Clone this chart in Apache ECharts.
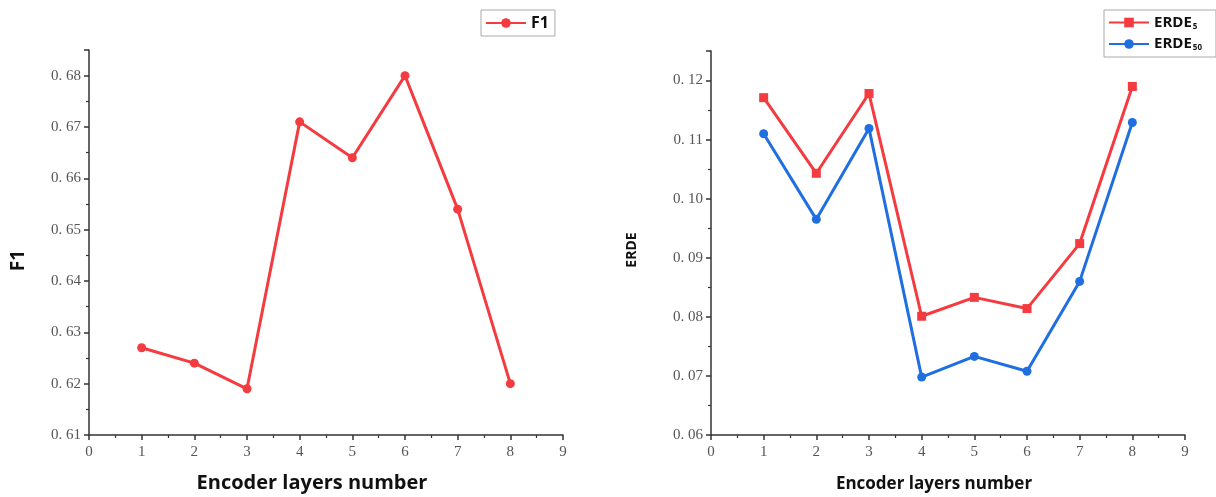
<!DOCTYPE html>
<html lang="en">

<head>
    <meta charset="UTF-8">
    <title>Encoder layers</title>
    <style>
        html, body { margin: 0; padding: 0; background: #fff; }
        #root { width: 1216px; height: 497px; }
    </style>
</head>

<body>
    <div id="root"></div>
    <script src="https://cdn.jsdelivr.net/npm/echarts@6/dist/echarts.min.js"></script>
    <script>
        var layers = [1, 2, 3, 4, 5, 6, 7, 8];
        var f1 = [0.627, 0.624, 0.619, 0.671, 0.664, 0.680, 0.654, 0.620];
        var erde5 = [0.1171, 0.1043, 0.1178, 0.0801, 0.0833, 0.0814, 0.0924, 0.1190];
        var erde50 = [0.1110, 0.0965, 0.1119, 0.0698, 0.0733, 0.0708, 0.0860, 0.1129];

        var red = "#f33b40";
        var blue = "#1f6fe0";
        var serif = "'Liberation Serif', 'DejaVu Serif', serif";
        var sans = "'Open Sans', 'Noto Sans', sans-serif";

        function pairs(ys) {
            return layers.map(function (x, i) { return [x, ys[i]]; });
        }

        function xAxis(idx, nameSize, nameGap) {
            return {
                type: "value",
                gridIndex: idx,
                min: 0,
                max: 9,
                interval: 1,
                name: "Encoder layers number",
                nameLocation: "middle",
                nameGap: nameGap,
                nameTextStyle: {
                    fontFamily: sans, fontWeight: "bold", fontSize: nameSize, color: "#111",
                    padding: [0, 28, 0, 0]
                },
                axisLine: { lineStyle: { color: "#333", width: 1.5 } },
                axisTick: { length: 5, lineStyle: { color: "#333", width: 1.5 } },
                minorTick: { show: true, splitNumber: 2, length: 3, lineStyle: { color: "#333", width: 1.2 } },
                axisLabel: { fontFamily: serif, fontSize: 15, color: "#555", margin: 10 },
                splitLine: { show: false }
            };
        }

        function yAxis(idx, min, max, name, nameSize, nameGap, shift) {
            return {
                type: "value",
                gridIndex: idx,
                min: min,
                max: max,
                interval: 0.01,
                name: name,
                nameLocation: "middle",
                nameGap: nameGap,
                nameTextStyle: {
                    fontFamily: sans, fontWeight: "bold", fontSize: nameSize, color: "#111",
                    padding: [0, shift * 2, 0, 0]
                },
                axisLine: { show: true, lineStyle: { color: "#333", width: 1.5 } },
                axisTick: { show: true, length: 5, lineStyle: { color: "#333", width: 1.5 } },
                minorTick: { show: true, splitNumber: 2, length: 3, lineStyle: { color: "#333", width: 1.2 } },
                axisLabel: {
                    fontFamily: serif, fontSize: 15, color: "#555", margin: 8,
                    showMaxLabel: false,
                    formatter: function (v) { return v.toFixed(2).replace(".", ". "); }
                },
                splitLine: { show: false }
            };
        }

        var option = {
            animation: false,
            backgroundColor: "#fff",
            grid: [
                { left: 89, top: 50, width: 474, height: 385, outerBoundsMode: "none" },
                { left: 711, top: 51, width: 474, height: 384, outerBoundsMode: "none" }
            ],
            legend: [
                {
                    data: ["F1"],
                    left: 481, top: 10,
                    orient: "vertical",
                    itemWidth: 40, itemHeight: 12,
                    padding: [5, 6, 5, 4],
                    borderColor: "#aaa", borderWidth: 1,
                    textStyle: { fontFamily: sans, fontWeight: "bold", fontSize: 16, color: "#111" }
                },
                {
                    data: ["ERDE5", "ERDE50"],
                    left: 1104, top: 10,
                    orient: "vertical",
                    itemWidth: 40, itemHeight: 12, itemGap: 6,
                    padding: [5, 14, 5, 4],
                    borderColor: "#aaa", borderWidth: 1,
                    formatter: function (n) {
                        return "{b|ERDE}{s|" + n.slice(4) + "}";
                    },
                    textStyle: {
                        rich: {
                            b: { fontFamily: sans, fontWeight: "bold", fontSize: 15, color: "#111" },
                            s: { fontFamily: sans, fontWeight: "bold", fontSize: 8, color: "#111", padding: [8, 0, 0, 1] }
                        }
                    }
                }
            ],
            xAxis: [xAxis(0, 20, 38), xAxis(1, 17, 41)],
            yAxis: [
                yAxis(0, 0.61, 0.685, "F1", 19, 61, 18),
                yAxis(1, 0.06, 0.125, "ERDE", 14, 72, 7)
            ],
            series: [
                {
                    name: "F1", type: "line", xAxisIndex: 0, yAxisIndex: 0,
                    data: pairs(f1),
                    symbol: "circle", symbolSize: 9,
                    itemStyle: { color: red },
                    lineStyle: { color: red, width: 3 }
                },
                {
                    name: "ERDE5", type: "line", xAxisIndex: 1, yAxisIndex: 1,
                    data: pairs(erde5),
                    symbol: "rect", symbolSize: 9,
                    itemStyle: { color: red },
                    lineStyle: { color: red, width: 3 }
                },
                {
                    name: "ERDE50", type: "line", xAxisIndex: 1, yAxisIndex: 1,
                    data: pairs(erde50),
                    symbol: "circle", symbolSize: 9,
                    itemStyle: { color: blue },
                    lineStyle: { color: blue, width: 3 }
                }
            ]
        };

        var chart = echarts.init(document.getElementById("root"));
        chart.setOption(option);
    </script>
</body>

</html>
